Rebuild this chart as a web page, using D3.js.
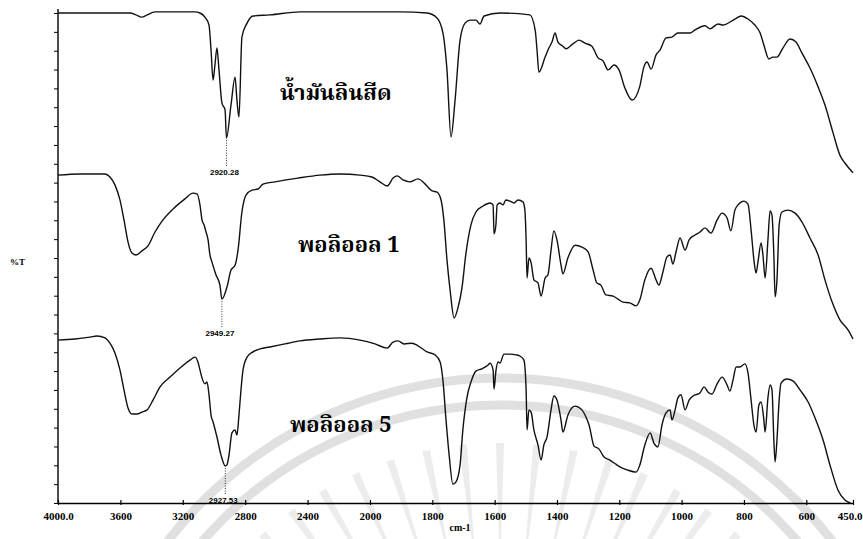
<!DOCTYPE html>
<html>
<head>
<meta charset="utf-8">
<script src="https://cdn.jsdelivr.net/npm/d3@7"></script>
<style>
  html, body { margin: 0; padding: 0; background: #fff; }
  svg { display: block; }
  .tick-label { font-family: "Liberation Serif", "Times New Roman", serif; font-weight: bold; font-size: 11px; }
  .thai { font-family: "Noto Serif Thai", "Noto Sans Thai", "Norasi", "Loma", "Garuda", "Tlwg Typo", sans-serif; font-weight: bold; font-size: 22px; }
  .peak { font-family: "Liberation Sans Narrow", "Liberation Sans", Arial, sans-serif; font-weight: bold; font-size: 8px; }
</style>
</head>
<body>
<svg id="chart" width="863" height="539"></svg>
<script>
// FT-IR spectra (stacked %T display) : wavenumber in cm-1, transmittance in stacked units
const linseedOil = [
  [4000,130.0],[3731,130.0],[3538,130.0],[3500,129.5],[3462,128.9],[3429,129.5],[3378,130.3],
  [3122,130.3],[3090,130.0],[3058,128.9],[3032,126.8],[3019,120.2],[3006,112.2],[2994,116.2],
  [2981,120.7],[2968,114.9],[2949,106.1],[2929,104.3],[2920.28,96.8],[2891,105.6],[2865,113.0],
  [2853,106.9],[2840,102.4],[2821,123.6],[2788,127.3],[2750,129.2],[2641,129.5],[2449,130.3],
  [2192,130.3],[1904,130.3],[1817,130.0],[1785,128.7],[1766,124.7],[1753,114.9],[1740,97.1],
  [1727,106.9],[1711,122.8],[1695,127.3],[1679,128.1],[1660,128.1],[1647,127.1],[1634,129.2],
  [1583,130.0],[1487,129.5],[1470,125.5],[1464,120.2],[1458,114.3],[1438,118.3],[1426,120.7],
  [1416,122.3],[1406,124.7],[1397,122.3],[1381,121.2],[1371,120.5],[1349,121.8],[1329,122.8],
  [1310,122.0],[1288,121.2],[1268,118.1],[1252,117.3],[1236,114.9],[1217,116.2],[1201,114.9],
  [1182,110.1],[1159,106.9],[1134,110.6],[1121,115.7],[1111,117.0],[1098,115.1],[1082,118.9],
  [1069,120.2],[1050,123.4],[1031,123.6],[1012,124.7],[973,124.7],[957,125.5],[925,126.6],
  [909,125.8],[883,127.1],[867,126.8],[829,128.4],[809,129.2],[787,128.4],[765,126.8],
  [748,124.7],[736,121.5],[720,117.8],[707,118.3],[694,118.3],[675,120.7],[652,123.1],
  [633,122.3],[614,119.4],[588,115.4],[562,110.4],[540,105.6],[514,98.2],[492,92.3],
  [476,90.2],[450,87.6]
];

const polyol1 = [
  [4000,87.0],[3859,87.3],[3699,87.3],[3667,86.5],[3635,84.4],[3603,80.4],[3577,75.1],
  [3551,69.2],[3526,66.3],[3500,65.8],[3462,66.9],[3423,68.2],[3378,71.9],[3327,75.1],
  [3250,78.5],[3186,80.7],[3135,82.2],[3109,82.0],[3090,79.1],[3077,75.1],[3064,73.8],
  [3051,71.9],[3038,69.8],[3026,65.8],[3013,63.9],[2987,60.5],[2962,57.8],[2949.27,54.1],
  [2917,57.3],[2891,61.8],[2865,63.1],[2846,67.1],[2821,77.2],[2795,81.7],[2756,83.0],
  [2718,83.3],[2686,84.6],[2609,85.2],[2462,86.2],[2321,87.0],[2192,87.3],[2064,87.0],
  [1994,86.5],[1968,85.2],[1945,84.1],[1926,86.2],[1913,86.8],[1894,85.7],[1872,85.2],
  [1846,86.0],[1823,84.6],[1801,82.8],[1785,82.5],[1772,80.4],[1763,75.1],[1753,64.5],
  [1743,56.5],[1730,49.1],[1718,51.7],[1705,57.0],[1692,66.3],[1676,73.8],[1660,77.2],
  [1637,78.8],[1615,79.6],[1605,79.1],[1602,71.4],[1596,73.8],[1592,79.1],[1583,79.6],
  [1573,79.1],[1564,80.4],[1551,80.1],[1538,79.6],[1525,80.4],[1509,79.9],[1503,77.7],
  [1499,69.8],[1496,59.7],[1490,65.0],[1483,63.7],[1474,59.2],[1461,58.4],[1451,54.9],
  [1438,59.7],[1429,60.5],[1419,67.1],[1410,72.2],[1400,69.8],[1387,63.1],[1381,60.8],
  [1365,65.0],[1342,68.4],[1320,67.9],[1300,66.6],[1284,61.8],[1272,58.4],[1259,57.8],
  [1243,55.2],[1220,54.9],[1204,54.1],[1188,53.3],[1166,53.1],[1146,52.3],[1134,53.9],
  [1118,59.2],[1098,62.3],[1082,59.2],[1073,57.8],[1060,61.3],[1047,65.3],[1037,65.8],
  [1028,63.4],[1018,66.6],[1005,70.3],[989,67.1],[976,69.8],[957,71.1],[941,71.9],
  [925,73.0],[906,71.6],[886,75.1],[870,76.9],[854,75.6],[842,72.2],[829,77.7],
  [819,79.1],[800,80.1],[787,79.3],[777,72.4],[768,64.5],[761,61.0],[755,63.9],
  [745,69.0],[739,65.8],[732,59.7],[723,69.8],[716,77.5],[710,76.4],[704,65.8],
  [700,54.7],[694,59.2],[687,73.8],[678,77.2],[659,77.7],[636,76.9],[614,74.6],
  [588,70.3],[562,65.8],[540,59.2],[517,53.3],[492,48.6],[466,45.9],[450,43.5]
];

const polyol5 = [
  [4000,43.2],[3891,43.5],[3795,44.0],[3750,44.3],[3699,43.8],[3667,42.4],[3635,39.8],
  [3603,35.3],[3577,30.0],[3551,25.2],[3526,23.6],[3494,23.6],[3462,24.1],[3429,24.7],
  [3391,27.3],[3346,30.8],[3282,33.4],[3218,35.8],[3154,37.9],[3122,38.7],[3103,37.4],
  [3090,35.3],[3077,33.2],[3058,31.6],[3045,32.1],[3032,28.7],[3019,23.3],[3006,21.5],
  [2981,17.5],[2955,12.7],[2927.53,9.8],[2917,10.1],[2904,12.7],[2885,18.6],[2865,19.4],
  [2853,18.0],[2840,23.3],[2827,30.0],[2814,35.3],[2788,38.7],[2750,40.1],[2705,40.9],
  [2641,41.4],[2545,42.2],[2449,43.0],[2321,43.5],[2192,43.8],[2064,43.2],[1984,42.2],
  [1945,41.1],[1926,42.7],[1910,43.0],[1891,42.2],[1865,42.4],[1846,41.7],[1817,40.1],
  [1791,39.3],[1775,37.4],[1766,32.6],[1756,22.0],[1746,12.7],[1734,5.0],[1724,5.6],
  [1711,10.1],[1702,19.4],[1689,27.9],[1676,32.1],[1660,35.0],[1641,35.6],[1621,36.6],
  [1615,37.1],[1605,35.3],[1602,30.2],[1596,35.0],[1589,37.4],[1583,37.1],[1570,39.5],
  [1551,39.5],[1531,39.3],[1519,39.0],[1506,37.9],[1499,30.0],[1496,19.4],[1490,24.7],
  [1483,24.1],[1474,19.4],[1461,15.4],[1451,11.4],[1442,15.4],[1432,17.5],[1419,24.7],
  [1410,28.4],[1400,27.3],[1387,22.0],[1381,18.8],[1365,23.3],[1342,25.7],[1320,24.7],
  [1307,22.8],[1297,20.7],[1281,15.1],[1265,14.3],[1249,12.2],[1230,11.4],[1211,10.3],
  [1198,9.6],[1175,8.8],[1146,8.2],[1134,10.1],[1118,15.4],[1101,18.6],[1089,15.9],
  [1076,14.9],[1063,20.7],[1050,23.9],[1037,24.7],[1031,22.0],[1021,24.7],[1012,27.9],
  [1002,28.7],[989,24.7],[976,27.3],[963,28.4],[941,29.2],[928,30.8],[915,29.4],
  [903,28.9],[886,31.6],[870,33.4],[854,31.3],[845,29.7],[835,32.6],[825,36.1],
  [813,36.1],[797,36.9],[787,34.5],[777,27.3],[768,20.7],[761,18.8],[752,26.0],
  [745,26.8],[736,22.0],[732,18.8],[723,27.9],[716,31.3],[710,30.0],[704,16.7],
  [700,10.9],[694,16.7],[687,27.3],[681,31.8],[662,32.9],[643,32.4],[620,30.0],
  [594,26.8],[572,22.6],[546,16.7],[524,10.1],[498,3.4],[476,0.8],[458,0.0]
];

const seriesNames = ["น้ำมันลินสีด", "พอลิออล 1", "พอลิออล 5"];
const peakLabels = [
  { wn: 2920.28, t: 96.8, text: "2920.28" },
  { wn: 2949.27, t: 54.1, text: "2949.27" },
  { wn: 2927.53, t: 9.8, text: "2927.53" }
];
const xTickValues = [4000, 3600, 3200, 2800, 2400, 2000, 1800, 1600, 1400, 1200, 1000, 800, 600, 450];
const xAxisTitle = "cm-1";
const yAxisTitle = "%T";

const svg = d3.select("#chart");

// Wavenumber axis with the usual scale change at 2000 cm-1
const x = d3.scaleLinear().domain([4000, 2000, 450]).range([58, 370, 853]);
const y = d3.scaleLinear().domain([0, 130]).range([503, 13]);

// faint seal printed behind the plot
const seal = svg.append("g").attr("fill", "none");
const cx = 500, cy = 798;
[420, 393].forEach(r => {
  seal.append("circle").attr("cx", cx).attr("cy", cy).attr("r", r)
    .attr("stroke", "#e0e0e0").attr("stroke-width", 9);
});
d3.range(-60, 61, 6).forEach(a => {
  const rad = (a - 90) * Math.PI / 180;
  const r0 = 255, r1 = 355;
  const w0 = 1, w1 = 4;
  const nx = -Math.sin(rad), ny = Math.cos(rad);
  const p0 = [cx + r0 * Math.cos(rad), cy + r0 * Math.sin(rad)];
  const p1 = [cx + r1 * Math.cos(rad), cy + r1 * Math.sin(rad)];
  seal.append("path")
    .attr("d", `M${p0[0] - nx * w0},${p0[1] - ny * w0}L${p1[0] - nx * w1},${p1[1] - ny * w1}L${p1[0] + nx * w1},${p1[1] + ny * w1}L${p0[0] + nx * w0},${p0[1] + ny * w0}Z`)
    .attr("fill", "#ececec");
});

// axes
const fmt = d => (d === 4000 || d === 450) ? d3.format(".1f")(d) : String(d);
const xAxis = d3.axisBottom(x).tickValues(xTickValues).tickFormat(fmt).tickSize(0).tickPadding(9);
const gx = svg.append("g").attr("transform", `translate(0,${y(0)})`).call(xAxis);
gx.select(".domain").attr("stroke", "#000").attr("stroke-width", 1.6);
gx.selectAll(".tick text").attr("class", "tick-label").attr("fill", "#000");
gx.selectAll(".tick").filter(d => d === 450).select("text")
  .attr("text-anchor", "end").attr("x", 862 - x(450));
gx.selectAll(".tick").append("line").attr("y1", -3).attr("y2", 2).attr("stroke", "#000").attr("stroke-width", 1.2);

const yAxis = d3.axisLeft(y).tickValues(d3.range(0, 131, 5)).tickFormat("").tickSize(4);
const gy = svg.append("g").attr("transform", `translate(${x(4000)},0)`).call(yAxis);
gy.select(".domain").attr("stroke", "#000").attr("stroke-width", 1.4).attr("d", `M0,${y(130) - 4}V${y(0)}`);
gy.selectAll(".tick line").attr("stroke", "#000").attr("stroke-width", 1);

svg.append("text").attr("class", "tick-label").attr("x", 10).attr("y", 265)
  .style("font-size", "9px").text(yAxisTitle);
svg.append("text").attr("class", "tick-label").attr("x", 460).attr("y", 531)
  .attr("text-anchor", "middle").style("font-size", "10px").text(xAxisTitle);

// spectra
const line = d3.line().x(d => x(d[0])).y(d => y(d[1])).curve(d3.curveMonotoneX);
[linseedOil, polyol1, polyol5].forEach(s => {
  svg.append("path").datum(s).attr("d", line)
    .attr("fill", "none").attr("stroke", "#111").attr("stroke-width", 1.4)
    .attr("stroke-linejoin", "round");
});

// peak markers
peakLabels.forEach(p => {
  const px = x(p.wn), py = y(p.t);
  svg.append("line").attr("x1", px).attr("x2", px).attr("y1", py + 2).attr("y2", py + 28)
    .attr("stroke", "#000").attr("stroke-width", 0.8).attr("stroke-dasharray", "1,1.5");
  svg.append("text").attr("class", "peak").attr("x", px - 2).attr("y", py + 37)
    .attr("text-anchor", "middle").text(p.text);
});

// sample names
const namePos = [[280, 100], [298, 252], [290, 432]];
seriesNames.forEach((n, i) => {
  svg.append("text").attr("class", "thai").attr("x", namePos[i][0]).attr("y", namePos[i][1]).text(n);
});
</script>
</body>
</html>
